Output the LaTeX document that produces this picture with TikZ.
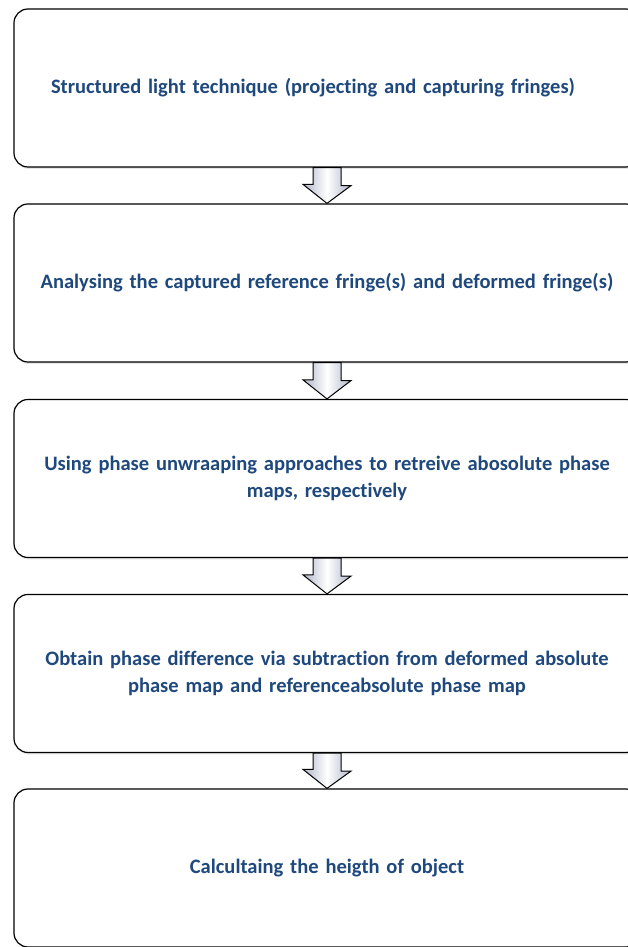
\documentclass[tikz,border=0pt]{standalone}
\usepackage{fontspec}
\setmainfont{Carlito}[Ligatures=NoCommon]
\usetikzlibrary{shadows, calc}
\definecolor{stepblue}{HTML}{1F497D}
\definecolor{arrowgray}{HTML}{B0B6C9}

\begin{document}
\begin{tikzpicture}[x=1bp, y=1bp,
    stage/.style={draw, line width=1.2bp, rounded corners=14bp,
      minimum width=626bp, minimum height=158bp, fill=white,
      text width=610bp, align=center, text=stepblue,
      font=\bfseries\fontsize{20.6}{26.5}\selectfont,
      drop shadow={opacity=0.2, shadow xshift=1bp, shadow yshift=-2bp}},
    down/.style={draw, line width=1bp,
      left color=arrowgray, right color=arrowgray, middle color=white}]
  \useasboundingbox (0,0) rectangle (628,947);
  % stages, top to bottom
  \node[stage] (s1) at (327,859) {Structured light technique (projecting and capturing fringes)\hspace*{28bp}};
  \node[stage] (s2) at (327,664) {Analysing the captured reference fringe(s) and deformed fringe(s)};
  \node[stage] (s3) at (327,468.5) {Using phase unwraaping approaches to retreive abosolute phase\\ maps, respectively};
  \node[stage] (s4) at (327,273.5) {Obtain phase difference via subtraction from deformed absolute\\ phase map and referenceabsolute phase map};
  \node[stage] (s5) at (327,79) {Calcultaing the heigth of object};
  % block arrows between stages
  \foreach \a/\b in {s1/s2, s2/s3, s3/s4, s4/s5}
    \shade[down] ($(\a.south)+(-14,0)$) -- ++(28,0) -- ++(0,-18) -- ++(10,0)
      -- (\b.north) -- ++(-24,19) -- ++(10,0) -- cycle;
\end{tikzpicture}
\end{document}
